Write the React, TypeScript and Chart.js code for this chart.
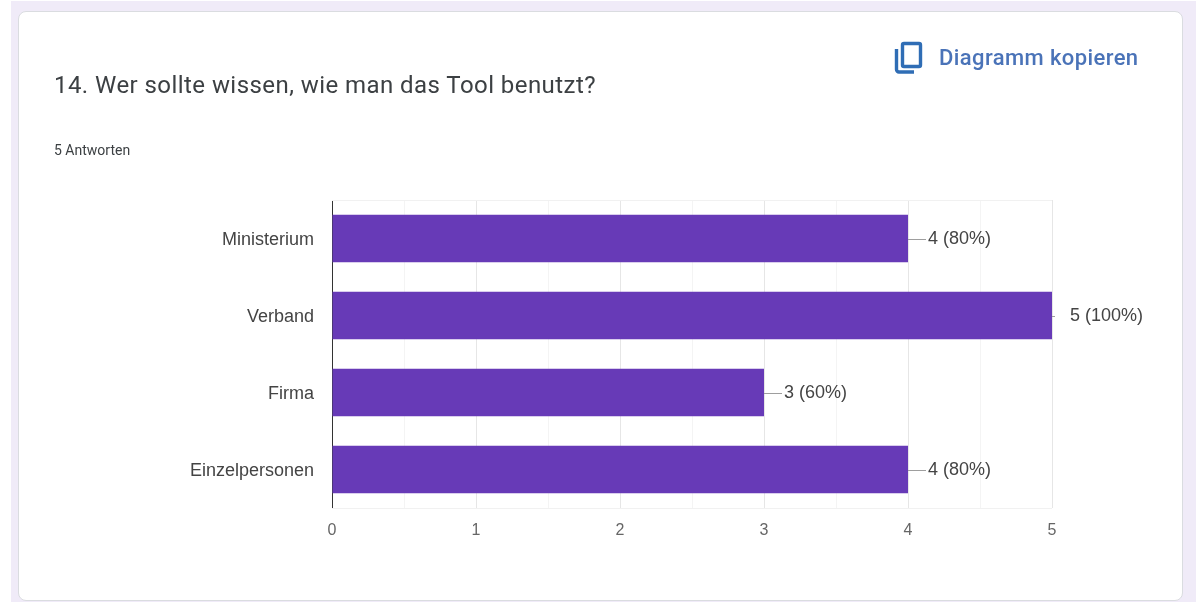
import React, { useEffect, useRef } from "react";
import { Chart, registerables } from "chart.js";

Chart.register(...registerables);

const questionTitle = "14. Wer sollte wissen, wie man das Tool benutzt?";
const answerCaption = "5 Antworten";
const copyLabel = "Diagramm kopieren";
const categories = ["Ministerium", "Verband", "Firma", "Einzelpersonen"];
const counts = [4, 5, 3, 4];
const percents = [80, 100, 60, 80];

const LABEL_FONT = '"Liberation Sans", Arial, sans-serif';

// Value captions to the right of each bar, joined to it by a short leader line.
const valueCaptions = {
  id: "valueCaptions",
  afterDatasetsDraw(chart: any) {
    const { ctx, scales } = chart;
    ctx.save();
    ctx.font = `18px ${LABEL_FONT}`;
    ctx.textBaseline = "middle";
    ctx.textAlign = "left";
    counts.forEach((v, i) => {
      const x = scales.x.getPixelForValue(v);
      const y = scales.y.getPixelForValue(i);
      const top = v === scales.x.max;
      ctx.strokeStyle = "#9e9e9e";
      ctx.lineWidth = 1;
      ctx.beginPath();
      ctx.moveTo(x, Math.round(y) + 0.5);
      ctx.lineTo(x + (top ? 3 : 18), Math.round(y) + 0.5);
      ctx.stroke();
      ctx.fillStyle = "#444444";
      ctx.fillText(`${v} (${percents[i]}%)`, x + (top ? 18 : 20), y + 1);
    });
    ctx.restore();
  },
};

// Faint frame around the plotting area.
const plotFrame = {
  id: "plotFrame",
  beforeDatasetsDraw(chart: any) {
    const { ctx, chartArea: a } = chart;
    ctx.save();
    ctx.strokeStyle = "#f1f1f1";
    ctx.lineWidth = 1;
    ctx.beginPath();
    ctx.moveTo(a.left, a.top + 0.5);
    ctx.lineTo(a.right, a.top + 0.5);
    ctx.moveTo(a.left, a.bottom + 0.5);
    ctx.lineTo(a.right, a.bottom + 0.5);
    ctx.stroke();
    ctx.restore();
  },
};

export default function App() {
  const canvasRef = useRef<HTMLCanvasElement>(null);

  useEffect(() => {
    const chart = new Chart(canvasRef.current!, {
      type: "bar",
      data: {
        labels: categories,
        datasets: [
          {
            data: counts,
            backgroundColor: "#673ab7",
            barPercentage: 0.62,
            categoryPercentage: 1,
          },
        ],
      },
      options: {
        indexAxis: "y",
        responsive: false,
        animation: false,
        layout: { padding: { top: 200, right: 144, left: 0, bottom: 0 } },
        plugins: { legend: { display: false }, tooltip: { enabled: false } },
        scales: {
          x: {
            min: 0,
            max: 5,
            afterFit(scale: any) {
              scale.height = 94;
            },
            grid: {
              drawTicks: false,
              color: (c: any) =>
                Number.isInteger(c.tick?.value) ? "#e6e6e6" : "#f4f4f4",
            },
            border: { display: false },
            ticks: {
              stepSize: 0.5,
              autoSkip: false,
              maxRotation: 0,
              padding: 13,
              color: "#666666",
              font: { family: LABEL_FONT, size: 16 },
              callback: (v: any) => (Number.isInteger(v) ? String(v) : ""),
            },
          },
          y: {
            afterFit(scale: any) {
              scale.width = 332;
            },
            grid: { display: false, drawTicks: false },
            border: { display: true, color: "#333333", width: 1 },
            ticks: {
              padding: 18,
              labelOffset: 1.5,
              color: "#444444",
              font: { family: LABEL_FONT, size: 18 },
            },
          },
        },
      },
      plugins: [plotFrame, valueCaptions],
    } as any);
    return () => chart.destroy();
  }, []);

  return (
    <div style={{ position: "fixed", left: 0, top: 0, width: 1196, height: 602, background: "#ffffff", overflow: "hidden" }}>
      <div style={{ position: "absolute", left: 11, top: 1, right: 0, bottom: 0, background: "#f0ebf8" }} />
      <div
        style={{
          position: "absolute",
          left: 18,
          top: 11,
          width: 1163,
          height: 588,
          background: "#ffffff",
          border: "1px solid #dadce0",
          borderRadius: 8,
        }}
      />
      <canvas ref={canvasRef} width={1196} height={602} style={{ position: "absolute", left: 0, top: 0 }} />
      <div style={{ position: "absolute", left: 54, top: 71, font: '400 24px Roboto, sans-serif', letterSpacing: 0.44, color: "#3c4043", whiteSpace: "nowrap" }}>
        {questionTitle}
      </div>
      <div style={{ position: "absolute", left: 54, top: 142, font: '400 14px Roboto, sans-serif', color: "#3c4043", whiteSpace: "nowrap" }}>
        {answerCaption}
      </div>
      <svg style={{ position: "absolute", left: 892, top: 40 }} width={32} height={36} viewBox="0 0 32 36">
        <rect x={10.5} y={3.5} width={18} height={23} rx={1.5} fill="none" stroke="#2f6db5" strokeWidth={3.4} />
        <path d="M4.5 9 V29.5 A2.5 2.5 0 0 0 7 32 H22" fill="none" stroke="#2f6db5" strokeWidth={3.4} />
      </svg>
      <div style={{ position: "absolute", left: 939, top: 45, font: '500 22px Roboto, sans-serif', letterSpacing: 0.4, color: "#4a73b8", whiteSpace: "nowrap" }}>
        {copyLabel}
      </div>
    </div>
  );
}
